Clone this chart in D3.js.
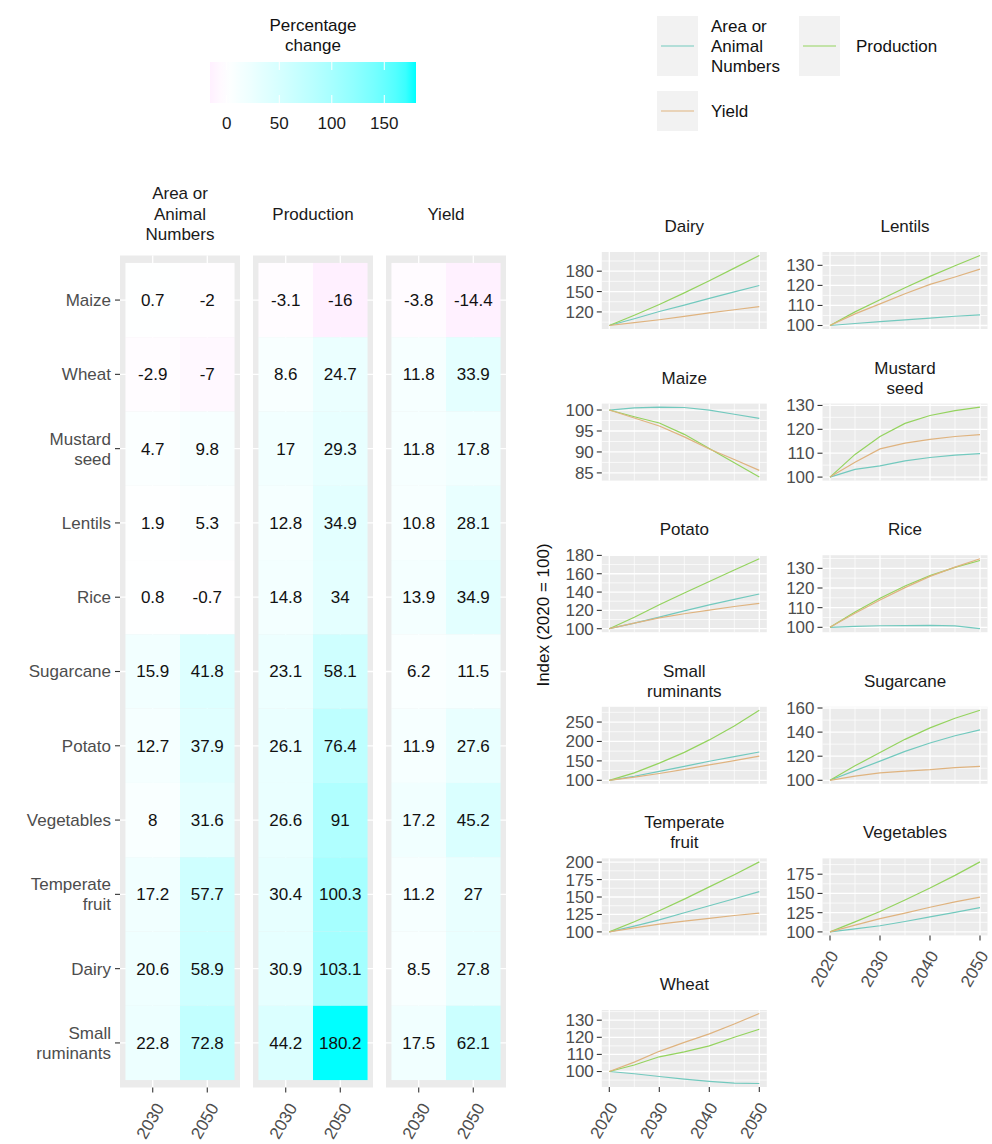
<!DOCTYPE html>
<html>
<head>
<meta charset="utf-8">
<script src="https://cdn.jsdelivr.net/npm/d3@7"></script>
<style>
  body { margin: 0; background: #ffffff; }
  text { font-family: "Liberation Sans", Arial, sans-serif; }
</style>
</head>
<body>
<svg id="chart" width="992" height="1144"></svg>
<script>
// ---- Heatmap data: percentage change relative to 2020 ----
const crops = ["Maize", "Wheat", "Mustard seed", "Lentils", "Rice", "Sugarcane",
  "Potato", "Vegetables", "Temperate fruit", "Dairy", "Small ruminants"];
const measures = ["Area or Animal Numbers", "Production", "Yield"];
const heatYears = ["2030", "2050"];

const areaChange2030 = [0.7, -2.9, 4.7, 1.9, 0.8, 15.9, 12.7, 8, 17.2, 20.6, 22.8];
const areaChange2050 = [-2, -7, 9.8, 5.3, -0.7, 41.8, 37.9, 31.6, 57.7, 58.9, 72.8];
const productionChange2030 = [-3.1, 8.6, 17, 12.8, 14.8, 23.1, 26.1, 26.6, 30.4, 30.9, 44.2];
const productionChange2050 = [-16, 24.7, 29.3, 34.9, 34, 58.1, 76.4, 91, 100.3, 103.1, 180.2];
const yieldChange2030 = [-3.8, 11.8, 11.8, 10.8, 13.9, 6.2, 11.9, 17.2, 11.2, 8.5, 17.5];
const yieldChange2050 = [-14.4, 33.9, 17.8, 28.1, 34.9, 11.5, 27.6, 45.2, 27, 27.8, 62.1];

const legendTicks = [0, 50, 100, 150];

// ---- Index series (2020 = 100) ----
const sampleYears = [2020, 2025, 2030, 2035, 2040, 2045, 2050];
const xTicks = [2020, 2030, 2040, 2050];

const areaIndex = {
  "Dairy":           [100, 110, 120.6, 130, 140, 149.5, 158.9],
  "Lentils":         [100, 101, 101.9, 102.8, 103.7, 104.6, 105.3],
  "Maize":           [100, 100.5, 100.7, 100.6, 100, 99, 98],
  "Mustard seed":    [100, 103.2, 104.7, 106.8, 108.2, 109.2, 109.8],
  "Potato":          [100, 106, 112.7, 119.5, 126, 132, 137.9],
  "Rice":            [100, 100.5, 100.8, 100.9, 101, 100.7, 99.3],
  "Small ruminants": [100, 110.5, 122.8, 136, 149, 161, 172.8],
  "Sugarcane":       [100, 108, 115.9, 124, 131, 137, 141.8],
  "Temperate fruit": [100, 108.2, 117.2, 127.5, 137.5, 147.5, 157.7],
  "Vegetables":      [100, 104, 108, 113.5, 119.5, 125.5, 131.6],
  "Wheat":           [100, 98.7, 97.1, 95.5, 94.2, 93.2, 93]
};
const productionIndex = {
  "Dairy":           [100, 115, 130.9, 148, 166, 184.5, 203.1],
  "Lentils":         [100, 106.8, 112.8, 118.8, 124.5, 129.8, 134.9],
  "Maize":           [100, 98.4, 96.9, 94.2, 90.8, 87.4, 84],
  "Mustard seed":    [100, 109.5, 117, 122.5, 125.8, 127.8, 129.3],
  "Potato":          [100, 112.5, 126.1, 139, 151.5, 164, 176.4],
  "Rice":            [100, 107.8, 114.8, 121, 126.3, 130.5, 134],
  "Small ruminants": [100, 119, 144.2, 172, 204, 240, 280.2],
  "Sugarcane":       [100, 112, 123.1, 134, 143.5, 151.5, 158.1],
  "Temperate fruit": [100, 114.5, 130.4, 147, 164.5, 182, 200.3],
  "Vegetables":      [100, 113, 126.6, 141.5, 157, 173.5, 191],
  "Wheat":           [100, 103.8, 108.6, 111.5, 115, 120, 124.7]
};
const yieldIndex = {
  "Dairy":           [100, 104.2, 108.5, 113.5, 118.5, 123.2, 127.8],
  "Lentils":         [100, 105.8, 110.8, 115.8, 120.5, 124.2, 128.1],
  "Maize":           [100, 98.1, 96.2, 93.6, 90.7, 88.2, 85.6],
  "Mustard seed":    [100, 106.2, 111.8, 114.2, 115.8, 117, 117.8],
  "Potato":          [100, 106, 111.9, 116.3, 120.3, 124.2, 127.6],
  "Rice":            [100, 107.2, 113.9, 120.2, 125.9, 130.6, 134.9],
  "Small ruminants": [100, 108, 117.5, 128, 139.5, 150.5, 162.1],
  "Sugarcane":       [100, 103.5, 106.2, 107.6, 108.8, 110.5, 111.5],
  "Temperate fruit": [100, 105.8, 111.2, 115.5, 119.5, 123.5, 127],
  "Vegetables":      [100, 108.8, 117.2, 124.5, 132, 139, 145.2],
  "Wheat":           [100, 105.5, 111.8, 117, 122, 127.8, 133.9]
};
const yTicks = {
  "Dairy": [120, 150, 180],
  "Lentils": [100, 110, 120, 130],
  "Maize": [85, 90, 95, 100],
  "Mustard seed": [100, 110, 120, 130],
  "Potato": [100, 120, 140, 160, 180],
  "Rice": [100, 110, 120, 130],
  "Small ruminants": [100, 150, 200, 250],
  "Sugarcane": [100, 120, 140, 160],
  "Temperate fruit": [100, 125, 150, 175, 200],
  "Vegetables": [100, 125, 150, 175],
  "Wheat": [100, 110, 120, 130]
};

const seriesNames = ["Area or Animal Numbers", "Production", "Yield"];
const seriesColors = ["#72c9be", "#94d35e", "#dfb37f"];

// ---- Styling ----
const FS = 17;
const axisTextColor = "#4d4d4d";
const stripTextColor = "#1a1a1a";
const tickColor = "#333333";
const panelFill = "#ebebeb";

const svg = d3.select("#chart");

function multiline(sel, lines, cx, cy, lh, anchor) {
  const n = lines.length;
  lines.forEach((ln, i) => {
    sel.append("text")
      .attr("x", cx)
      .attr("y", cy + (i - (n - 1) / 2) * lh)
      .attr("dy", "0.35em")
      .attr("text-anchor", anchor || "middle")
      .text(ln);
  });
}

// ================= HEATMAP =================
const heatValues = {
  "Area or Animal Numbers": [areaChange2030, areaChange2050],
  "Production": [productionChange2030, productionChange2050],
  "Yield": [yieldChange2030, yieldChange2050]
};
const allHeat = [].concat(areaChange2030, areaChange2050, productionChange2030,
  productionChange2050, yieldChange2030, yieldChange2050);
const heatMin = d3.min(allHeat), heatMax = d3.max(allHeat);
const maxAbs = d3.max(allHeat, v => Math.abs(v));
const fill = d3.scaleLinear()
  .domain([-maxAbs, 0, maxAbs])
  .range(["#ff00ff", "#ffffff", "#00ffff"])
  .interpolate(d3.interpolateLab);

const heatTop = 255.5, heatBottom = 1087.5;
const heatPanelX = [120, 253, 386], heatPanelW = 120;

const yBand = d3.scaleBand().domain(crops).range([heatTop, heatBottom])
  .paddingInner(0).paddingOuter(0.1);

const heat = svg.append("g");

measures.forEach((m, mi) => {
  const px = heatPanelX[mi];
  const xBand = d3.scaleBand().domain(heatYears).range([px, px + heatPanelW])
    .paddingInner(0).paddingOuter(0.1);
  const g = heat.append("g");
  g.append("rect").attr("x", px).attr("y", heatTop)
    .attr("width", heatPanelW).attr("height", heatBottom - heatTop)
    .attr("fill", panelFill);
  // gridlines at category centres
  crops.forEach(c => {
    const y = yBand(c) + yBand.bandwidth() / 2;
    g.append("line").attr("x1", px).attr("x2", px + heatPanelW)
      .attr("y1", y).attr("y2", y).attr("stroke", "#fff").attr("stroke-width", 1.3);
  });
  heatYears.forEach(yr => {
    const x = xBand(yr) + xBand.bandwidth() / 2;
    g.append("line").attr("x1", x).attr("x2", x)
      .attr("y1", heatTop).attr("y2", heatBottom).attr("stroke", "#fff").attr("stroke-width", 1.3);
  });
  // tiles
  heatYears.forEach((yr, yi) => {
    const vals = heatValues[m][yi];
    crops.forEach((c, ci) => {
      g.append("rect")
        .attr("x", xBand(yr)).attr("y", yBand(c))
        .attr("width", xBand.bandwidth()).attr("height", yBand.bandwidth())
        .attr("fill", fill(vals[ci]));
    });
    crops.forEach((c, ci) => {
      g.append("text")
        .attr("x", xBand(yr) + xBand.bandwidth() / 2)
        .attr("y", yBand(c) + yBand.bandwidth() / 2)
        .attr("dy", "0.35em")
        .attr("text-anchor", "middle")
        .attr("font-size", FS).attr("fill", "#111")
        .text(String(vals[ci]));
    });
  });
  // x axis
  heatYears.forEach(yr => {
    const x = xBand(yr) + xBand.bandwidth() / 2;
    g.append("line").attr("x1", x).attr("x2", x)
      .attr("y1", heatBottom).attr("y2", heatBottom + 5)
      .attr("stroke", tickColor).attr("stroke-width", 1.1);
    g.append("text")
      .attr("transform", `translate(${x + 12},${heatBottom + 20}) rotate(-60)`)
      .attr("text-anchor", "end")
      .attr("font-size", FS).attr("fill", axisTextColor)
      .text(yr);
  });
  // strip header
  const sg = g.append("g").attr("font-size", FS).attr("fill", stripTextColor);
  const headerLines = m === "Area or Animal Numbers" ? ["Area or", "Animal", "Numbers"] : [m];
  multiline(sg, headerLines, px + heatPanelW / 2, 214, 20.5);
});

// y axis (crop names)
const yAx = heat.append("g").attr("font-size", FS).attr("fill", axisTextColor);
crops.forEach(c => {
  const y = yBand(c) + yBand.bandwidth() / 2;
  yAx.append("line").attr("x1", heatPanelX[0] - 5).attr("x2", heatPanelX[0])
    .attr("y1", y).attr("y2", y).attr("stroke", tickColor).attr("stroke-width", 1.1);
  multiline(yAx, c.split(" "), heatPanelX[0] - 9, y, 20, "end");
});

// ---- colour legend ----
const legX = d3.scaleLinear().domain([heatMin, heatMax]).range([210, 416]);
const defs = svg.append("defs");
const grad = defs.append("linearGradient").attr("id", "heatGrad")
  .attr("x1", "0%").attr("x2", "100%").attr("y1", "0%").attr("y2", "0%");
d3.range(0, 1.0001, 0.05).forEach(t => {
  grad.append("stop").attr("offset", (t * 100) + "%")
    .attr("stop-color", fill(heatMin + t * (heatMax - heatMin)));
});
const leg = svg.append("g");
leg.append("rect").attr("x", legX.range()[0]).attr("y", 62)
  .attr("width", legX.range()[1] - legX.range()[0]).attr("height", 41)
  .attr("fill", "url(#heatGrad)");
legendTicks.forEach(t => {
  const x = legX(t);
  leg.append("line").attr("x1", x).attr("x2", x).attr("y1", 62).attr("y2", 70)
    .attr("stroke", "#fff").attr("stroke-width", 1);
  leg.append("line").attr("x1", x).attr("x2", x).attr("y1", 95).attr("y2", 103)
    .attr("stroke", "#fff").attr("stroke-width", 1);
  leg.append("text").attr("x", x).attr("y", 123).attr("dy", "0.35em")
    .attr("text-anchor", "middle").attr("font-size", FS).attr("fill", "#1a1a1a")
    .text(t);
});
const legTitle = leg.append("g").attr("font-size", FS).attr("fill", "#111");
multiline(legTitle, ["Percentage", "change"], 313, 35, 20);

// ================= SMALL MULTIPLES =================
const facetCrops = crops.slice().sort(d3.ascending);
const colX = [601.8, 822.5];
const facetW = 165, facetH = 77, rowPitch = 151.6, firstTop = 252;

const xScaleBase = d3.scaleLinear()
  .domain([d3.min(sampleYears) - 0.05 * (d3.max(sampleYears) - d3.min(sampleYears)),
           d3.max(sampleYears) + 0.05 * (d3.max(sampleYears) - d3.min(sampleYears))]);
const xMinor = [];
for (let i = 0; i < xTicks.length - 1; i++) xMinor.push((xTicks[i] + xTicks[i + 1]) / 2);

const facets = svg.append("g");
facetCrops.forEach((crop, i) => {
  const col = i % 2, row = Math.floor(i / 2);
  const left = colX[col], top = firstTop + row * rowPitch;
  const x = xScaleBase.copy().range([left, left + facetW]);
  const seriesData = [areaIndex[crop], productionIndex[crop], yieldIndex[crop]];
  const allVals = [].concat(...seriesData);
  const lo = d3.min(allVals), hi = d3.max(allVals), pad = 0.05 * (hi - lo);
  const y = d3.scaleLinear().domain([lo - pad, hi + pad]).range([top + facetH, top]);
  const g = facets.append("g");

  g.append("rect").attr("x", left).attr("y", top).attr("width", facetW).attr("height", facetH)
    .attr("fill", panelFill);

  // minor gridlines
  const majors = yTicks[crop];
  const step = majors[1] - majors[0];
  const minors = [majors[0] - step / 2];
  for (let k = 0; k < majors.length - 1; k++) minors.push((majors[k] + majors[k + 1]) / 2);
  minors.push(majors[majors.length - 1] + step / 2);
  const [dLo, dHi] = y.domain();
  minors.filter(v => v > dLo && v < dHi).forEach(v => {
    g.append("line").attr("x1", left).attr("x2", left + facetW)
      .attr("y1", y(v)).attr("y2", y(v)).attr("stroke", "#fff").attr("stroke-width", 0.7);
  });
  xMinor.forEach(v => {
    g.append("line").attr("x1", x(v)).attr("x2", x(v))
      .attr("y1", top).attr("y2", top + facetH).attr("stroke", "#fff").attr("stroke-width", 0.7);
  });
  // major gridlines
  majors.forEach(v => {
    g.append("line").attr("x1", left).attr("x2", left + facetW)
      .attr("y1", y(v)).attr("y2", y(v)).attr("stroke", "#fff").attr("stroke-width", 1.3);
  });
  xTicks.forEach(v => {
    g.append("line").attr("x1", x(v)).attr("x2", x(v))
      .attr("y1", top).attr("y2", top + facetH).attr("stroke", "#fff").attr("stroke-width", 1.3);
  });

  // lines
  const line = d3.line().x((d, k) => x(sampleYears[k])).y(d => y(d));
  seriesData.forEach((vals, si) => {
    g.append("path").attr("d", line(vals)).attr("fill", "none")
      .attr("stroke", seriesColors[si]).attr("stroke-width", 1.2);
  });

  // y axis
  const ya = g.append("g").attr("font-size", FS).attr("fill", axisTextColor);
  majors.forEach(v => {
    ya.append("line").attr("x1", left - 5).attr("x2", left)
      .attr("y1", y(v)).attr("y2", y(v)).attr("stroke", tickColor).attr("stroke-width", 1.1);
    ya.append("text").attr("x", left - 8).attr("y", y(v)).attr("dy", "0.35em")
      .attr("text-anchor", "end").text(v);
  });

  // x axis on the bottom panel of each column
  if (i + 2 >= facetCrops.length) {
    const xa = g.append("g").attr("font-size", FS).attr("fill", axisTextColor);
    xTicks.forEach(v => {
      xa.append("line").attr("x1", x(v)).attr("x2", x(v))
        .attr("y1", top + facetH).attr("y2", top + facetH + 5)
        .attr("stroke", tickColor).attr("stroke-width", 1.1);
      xa.append("text")
        .attr("transform", `translate(${x(v) + 9},${top + facetH + 20}) rotate(-60)`)
        .attr("text-anchor", "end").text(v);
    });
  }

  // facet title
  const tg = g.append("g").attr("font-size", FS).attr("fill", stripTextColor);
  multiline(tg, crop.split(" "), left + facetW / 2, top - 26, 20);
});

// y axis title
svg.append("text")
  .attr("transform", "translate(543,615) rotate(-90)")
  .attr("dy", "0.35em")
  .attr("text-anchor", "middle").attr("font-size", FS).attr("fill", "#111")
  .text("Index (2020 = 100)");

// ---- line legend ----
const keys = [
  { x: 657, y: 16, h: 60, lines: ["Area or", "Animal", "Numbers"], lx: 711 },
  { x: 799, y: 16, h: 60, lines: ["Production"], lx: 856 },
  { x: 657, y: 91, h: 40, lines: ["Yield"], lx: 711 }
];
const kg = svg.append("g");
seriesNames.forEach((s, si) => {
  const k = keys[si];
  kg.append("rect").attr("x", k.x).attr("y", k.y).attr("width", 41).attr("height", k.h)
    .attr("fill", "#f2f2f2");
  kg.append("line").attr("x1", k.x + 4).attr("x2", k.x + 37)
    .attr("y1", k.y + k.h / 2).attr("y2", k.y + k.h / 2)
    .attr("stroke", seriesColors[si]).attr("stroke-width", 1.2);
  const tg = kg.append("g").attr("font-size", FS).attr("fill", "#111");
  multiline(tg, k.lines, k.lx, k.y + k.h / 2, 20, "start");
});
</script>
</body>
</html>
